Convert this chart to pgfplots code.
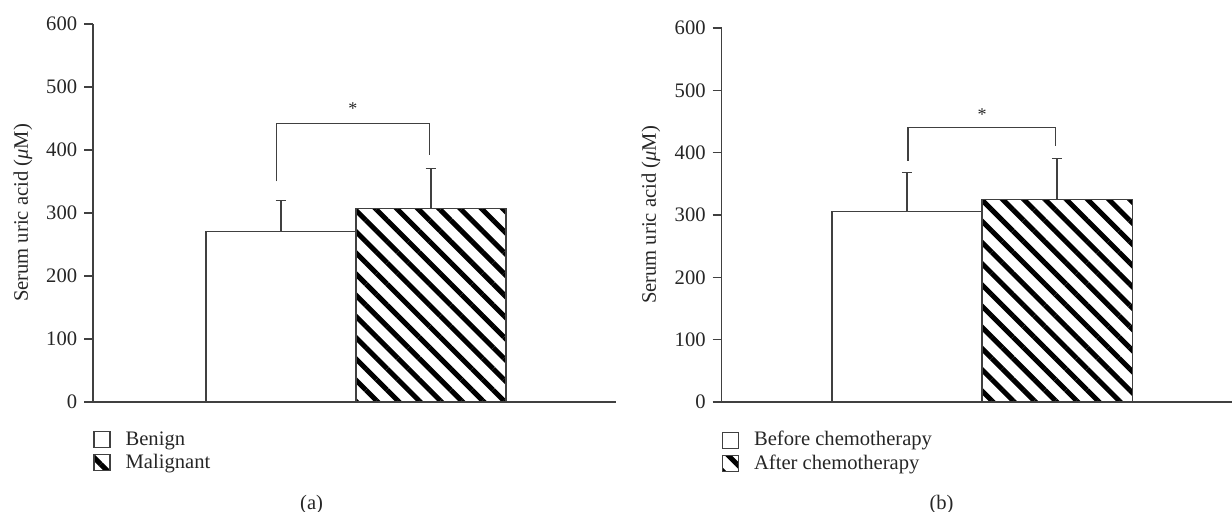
\documentclass[border=0pt]{standalone}
\usepackage{fontspec}
\setmainfont{Liberation Serif}
\usepackage{pgfplots}
\pgfplotsset{compat=1.18}
\usetikzlibrary{patterns.meta}

\definecolor{ink}{gray}{0.25}
\definecolor{txt}{gray}{0.15}

\pgfplotsset{
  uric/.style={
    scale only axis,
    ymin=0, ymax=600, ytick={0,100,...,600},
    axis lines*=left, xtick=\empty,
    tick align=outside, major tick length=4.4pt,
    axis line style={draw=ink, line width=0.75pt},
    every tick/.style={draw=ink, line width=0.75pt},
    tick label style={font=\fontsize{10.3}{12}\selectfont, text=txt},
    /pgf/number format/assume math mode=true,
    ylabel={Serum uric acid (\textit{μ}M)},
    label style={font=\fontsize{10.3}{12}\selectfont, text=txt},
    ybar, bar width=1, clip=false,
    legend style={draw=none, fill=none, at={(axis description cs:0,0)},
      anchor=north west, yshift=-13.5pt, font=\fontsize{10.3}{12}\selectfont,
      text=txt, row sep=1pt, inner sep=0pt, nodes={inner sep=1pt},
      /tikz/every odd column/.append style={column sep=6.5pt}},
    legend cell align=left,
  },
  plain bar/.style={fill=white, draw=ink, line width=0.6pt, bar shift=0pt,
    legend image code/.code={\draw[fill=white, draw=ink, line width=0.6pt]
      (0pt,-4pt) rectangle (8pt,4pt);},
    error bars/.cd, y dir=plus, y explicit,
    error bar style={draw=ink, line width=0.6pt},
    error mark options={draw=ink, line width=0.6pt, mark size=2.6pt, rotate=90}},
  hatch bar/.style={draw=ink, line width=0.6pt, bar shift=0pt,
    pattern={Lines[angle=-45, distance=7.5pt, line width=2.5pt]},
    legend image code/.code={\draw[draw=ink, line width=0.6pt,
      pattern={Lines[angle=-45, distance=7.5pt, line width=2.5pt]}]
      (0pt,-4pt) rectangle (8pt,4pt);},
    error bars/.cd, y dir=plus, y explicit,
    error bar style={draw=ink, line width=0.6pt},
    error mark options={draw=ink, line width=0.6pt, mark size=2.6pt, rotate=90}},
}

\begin{document}
\begin{tikzpicture}
\useasboundingbox (0,0) rectangle (616pt,256pt);

% (a)
\begin{axis}[uric, at={(46.5pt,55pt)}, anchor=south west,
  width=261.5pt, height=189pt, xmin=-0.253, xmax=3.234,
  ylabel style={at={(axis description cs:-0.134,0.5)}, anchor=center}]
\addplot[plain bar] coordinates {(1,271) +- (0,49)};
\addlegendentry{Benign}
\addplot[hatch bar] coordinates {(2,307) +- (0,63)};
\addlegendentry{Malignant}
\draw[ink, line width=0.6pt] (axis cs:0.97,350) -- (axis cs:0.97,442)
  -- (axis cs:1.99,442) -- (axis cs:1.99,392);
\node[text=txt, font=\fontsize{9}{10}\selectfont] at (axis cs:1.48,465) {*};
\node[text=txt, font=\fontsize{10.3}{12}\selectfont]
  at (axis description cs:0.418,-0.272) {(a)};
\end{axis}

% (b)
\begin{axis}[uric, at={(360.75pt,55pt)}, anchor=south west,
  width=255.25pt, height=187pt, xmin=-0.237, xmax=3.166,
  ylabel style={at={(axis description cs:-0.138,0.5)}, anchor=center}]
\addplot[plain bar] coordinates {(1,306) +- (0,62)};
\addlegendentry{Before chemotherapy}
\addplot[hatch bar] coordinates {(2,325) +- (0,65)};
\addlegendentry{After chemotherapy}
\draw[ink, line width=0.6pt] (axis cs:1.006,387) -- (axis cs:1.006,440)
  -- (axis cs:1.99,440) -- (axis cs:1.99,410);
\node[text=txt, font=\fontsize{9}{10}\selectfont] at (axis cs:1.5,461) {*};
\node[text=txt, font=\fontsize{10.3}{12}\selectfont]
  at (axis description cs:0.431,-0.275) {(b)};
\end{axis}
\end{tikzpicture}
\end{document}
